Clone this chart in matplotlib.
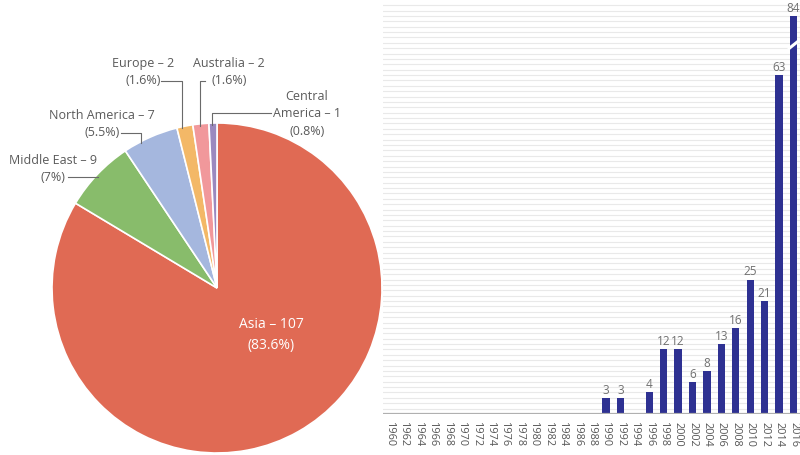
import matplotlib
matplotlib.use("Agg")
import matplotlib.pyplot as plt
import numpy as np

# ---------------- data ----------------
regions = ["Asia", "Middle East", "North America", "Europe", "Australia", "Central America"]
region_counts = [107, 9, 7, 2, 2, 1]
region_pcts = ["83.6%", "7%", "5.5%", "1.6%", "1.6%", "0.8%"]
region_colors = ["#E06A54", "#88BC6B", "#A5B7DE", "#F3B867", "#F1989B", "#9B89BF"]

years = list(range(1960, 2017, 2))
counts = [0] * 15 + [3, 3, 0, 4, 12, 12, 6, 8, 13, 16, 25, 21, 63, 84]

# ---------------- figure ----------------
W, H = 800, 456
fig = plt.figure(figsize=(W / 100, H / 100), dpi=100)
plt.rcParams['font.family'] = ['Open Sans', 'DejaVu Sans']
txt_col = "#5a5a5a"

# ---- pie ----
cx, cy, R = 217, 289, 165
axp = fig.add_axes([(cx - R) / W, (H - cy - R) / H, 2 * R / W, 2 * R / H])
wedges, _ = axp.pie(region_counts, colors=region_colors, startangle=90, counterclock=False,
                    radius=1, wedgeprops=dict(edgecolor="white", linewidth=1.2))
axp.set_xlim(-1, 1)
axp.set_ylim(-1, 1)
axp.set_aspect("equal")
axp.axis("off")

def P(px, py):
    return ((px - cx) / R, (cy - py) / R)

# Asia label inside
ax_, ay_ = P(271, 335)
axp.text(ax_, ay_, f"{regions[0]} – {region_counts[0]}\n({region_pcts[0]})", color="white",
         fontsize=10, ha="center", va="center", linespacing=1.5)

fs = 9
lc = "#6a6a6a"
specs = {
    "Middle East": dict(tx=53, ty=169, lines=[(68, 178)], drop=None, hz=True),
    "North America": dict(tx=102, ty=124, lines=[(121, 134), (141, 134)], drop=141),
    "Europe": dict(tx=143, ty=72, lines=[(161, 82), (182, 82)], drop=182),
    "Australia": dict(tx=229, ty=72, lines=[(205, 82), (200, 82)], drop=200),
}
for i, name in enumerate(regions[1:5], start=1):
    s = specs[name]
    tx, ty = P(s["tx"], s["ty"])
    axp.text(tx, ty, f"{name} – {region_counts[i]}\n({region_pcts[i]})", color=txt_col,
             fontsize=fs, ha="center", va="center", linespacing=1.45, clip_on=False)
    pts = [P(*p) for p in s["lines"]]
    if s.get("hz"):
        y0 = pts[0][1]
        xe = -np.sqrt(1 - y0 ** 2) + 0.02
        pts.append((xe, y0))
    else:
        xd = (s["drop"] - cx) / R
        pts.append((xd, np.sqrt(1 - xd ** 2) - 0.01))
    xs, ys = zip(*pts)
    axp.plot(xs, ys, color=lc, lw=0.8, clip_on=False)

# Central America
tx, ty = P(307, 114)
axp.text(tx, ty, f"Central\nAmerica – {region_counts[5]}\n({region_pcts[5]})", color=txt_col,
         fontsize=fs, ha="center", va="center", linespacing=1.45, clip_on=False)
xd = (212 - cx) / R
pts = [P(271, 114), P(212, 114), (xd, np.sqrt(1 - xd ** 2) - 0.01)]
xs, ys = zip(*pts)
axp.plot(xs, ys, color=lc, lw=0.8, clip_on=False)

# ---- bar chart ----
left_px, right_px, base_px, top_px = 383, 800, 415, 3
axb = fig.add_axes([left_px / W, (H - base_px) / H, (right_px - left_px) / W, (base_px - top_px) / H])
unit_px = 5.38
ymax = (base_px - top_px) / unit_px
cap = 74
shown = [min(c, cap) for c in counts]
axb.set_xlim(1959.1, 2016.9)
axb.set_ylim(0, ymax)
for y in range(1, int(ymax) + 1):
    axb.axhline(y, color="#e9e9e9", lw=0.8, zorder=0)
axb.bar(years, shown, width=1.0, color="#2E3192", zorder=2)
for x, c, s in zip(years, counts, shown):
    if c > 0:
        axb.annotate(str(c), (x, s), xytext=(0, 1.5), textcoords="offset points",
                     ha="center", va="bottom", fontsize=8.5, color="#707070", annotation_clip=False)
    if c > cap:
        axb.plot([x - 0.75, x + 0.75], [cap - 6.2, cap - 4.6], color="white", lw=2.2, zorder=3,
                 solid_capstyle="butt")
axb.axhline(0, color="#b0b0b0", lw=1.6, zorder=3)
for sp in axb.spines.values():
    sp.set_visible(False)
axb.set_yticks([])
axb.set_xticks(years)
axb.set_xticklabels([str(y) for y in years], rotation=270, fontsize=7.8, color="#555555")
axb.tick_params(axis="x", length=0, pad=5)
axb.set_facecolor("none")

fig.savefig("out.png", dpi=100)
